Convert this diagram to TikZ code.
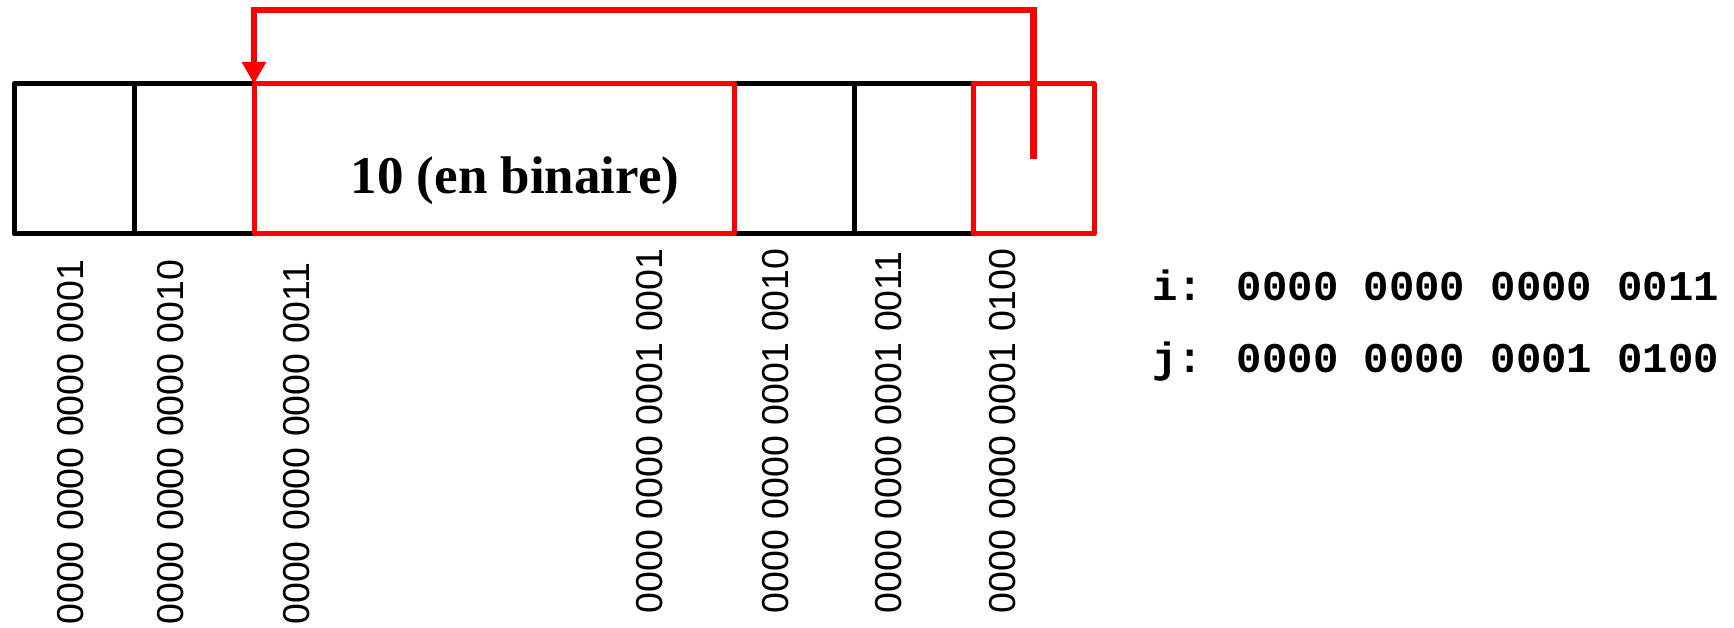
\documentclass[tikz,border=0pt]{standalone}
\usepackage{fontspec}
\usetikzlibrary{arrows.meta}
\newfontfamily\lsans{Liberation Sans}
\newfontfamily\lserif{Liberation Serif}
\newfontfamily\lmono{Liberation Mono}
\definecolor{pured}{RGB}{255,0,0}
\tikzset{
  cell/.style={draw=black, line width=5pt, line join=round, inner sep=0pt, outer sep=0pt, minimum height=150pt},
  redcell/.style={cell, draw=pured},
  addr/.style={rotate=90, anchor=west, inner sep=0pt, outer sep=0pt, font=\lsans\fontsize{37.5}{44}\selectfont},
  monotxt/.style={anchor=base west, inner sep=0pt, outer sep=0pt, font=\lmono\bfseries\fontsize{42.3}{50}\selectfont},
  valtxt/.style={anchor=base, inner sep=0pt, font=\lserif\bfseries\fontsize{53}{60}\selectfont},
  redarrow/.style={draw=pured, line width=6.5pt, -{Triangle[length=22pt, width=23pt]}}
}
\begin{document}
\begin{tikzpicture}[x=1pt, y=-1pt]
\useasboundingbox (0,0) rectangle (1734,628);
% black cells
\node[cell, minimum width=120pt] (c1) at (74,159) {};
\node[cell, minimum width=120pt] (c2) at (194,159) {};
\node[cell, minimum width=120pt] (c4) at (794,159) {};
\node[cell, minimum width=119pt] (c5) at (913.5,159) {};
% red cells
\node[redcell, minimum width=480pt] (c3) at (494,159) {};
\node[redcell, minimum width=121pt] (c6) at (1033.5,159) {};
\node[valtxt] (val) at (515,193.5) {10 (en binaire)};
% arrow
\coordinate (src) at (1033.5,159.5);
\coordinate (corner) at (1033.5,10);
\draw[redarrow] (src) -- (corner) -| (c3.north west);
% addresses
\node[addr] (a1) at (70.7,624.6) {0000 0000 0000 0001};
\node[addr] (a2) at (171,624.6) {0000 0000 0000 0010};
\node[addr] (a3) at (296.7,624.6) {0000 0000 0000 0011};
\node[addr] (a4) at (649.3,613.3) {0000 0000 0001 0001};
\node[addr] (a5) at (775.7,613.3) {0000 0000 0001 0010};
\node[addr] (a6) at (888.7,613.3) {0000 0000 0001 0011};
\node[addr] (a7) at (1002.3,613.3) {0000 0000 0001 0100};
% variables
\node[monotxt] (vi) at (1152.3,301) {i: 0000 0000 0000 0011};
\node[monotxt] (vj) at (1152.3,372) {j: 0000 0000 0001 0100};
\end{tikzpicture}
\end{document}
